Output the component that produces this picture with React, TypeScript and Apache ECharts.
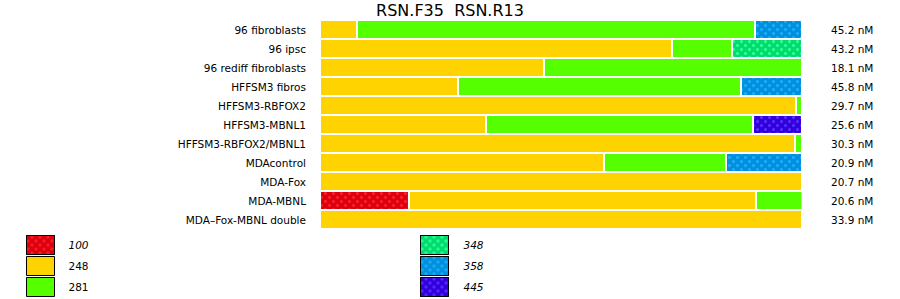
import React, { useEffect, useRef } from "react";
import * as echarts from "echarts";

const categories = [
  "96 fibroblasts",
  "96 ipsc",
  "96 rediff fibroblasts",
  "HFFSM3 fibros",
  "HFFSM3-RBFOX2",
  "HFFSM3-MBNL1",
  "HFFSM3-RBFOX2/MBNL1",
  "MDAcontrol",
  "MDA-Fox",
  "MDA-MBNL",
  "MDA\u2013Fox-MBNL double",
];
const concLabels = [
  "45.2 nM", "43.2 nM", "18.1 nM", "45.8 nM", "29.7 nM", "25.6 nM",
  "30.3 nM", "20.9 nM", "20.7 nM", "20.6 nM", "33.9 nM",
];
const seriesNames = ["100", "248", "281", "348", "358", "445"];
// percent of each bar
const v100 = [0, 0, 0, 0, 0, 0, 0, 0, 0, 18.46, 0];
const v248 = [7.68, 73.03, 46.47, 28.63, 98.76, 34.44, 98.55, 58.92, 100, 71.99, 100];
const v281 = [82.57, 12.45, 53.53, 58.71, 1.24, 55.39, 1.45, 25.31, 0, 9.75, 0];
const v348 = [0, 14.52, 0, 0, 0, 0, 0, 0, 0, 0, 0];
const v358 = [9.75, 0, 0, 12.66, 0, 0, 0, 15.77, 0, 0, 0];
const v445 = [0, 0, 0, 0, 0, 10.17, 0, 0, 0, 0, 0];
const seriesValues = [v100, v248, v281, v348, v358, v445];
const colors = ["#DD0011", "#FFD300", "#55FF00", "#00DD6E", "#0091DD", "#3300DD"];
const dotColors = ["#FF2222", null, null, "#33FF99", "#22AAFF", "#5533FF"];

const FONT = "DejaVu Sans";

export default function App() {
  const ref = useRef<HTMLDivElement>(null);
  useEffect(() => {
    document.body.style.margin = "0";
    const chart = echarts.init(ref.current!, null, { renderer: "svg" });
    const series = seriesNames.map((name, i) => {
      const itemStyle: any = { color: colors[i], borderColor: "#fff", borderWidth: 1 };
      if (dotColors[i]) {
        itemStyle.decal = {
          symbol: "circle",
          symbolSize: 1,
          dashArrayX: [[3, 5], [0, 4, 3, 1]],
          dashArrayY: [3, 1],
          color: dotColors[i],
          rotation: 0,
        };
      }
      return {
        name,
        type: "bar",
        stack: "all",
        barWidth: "100%",
        yAxisIndex: 0,
        data: seriesValues[i].map((v) => (v === 0 ? null : v)),
        itemStyle,
      };
    });
    const italic = (n: string) =>
      n === "248" || n === "281" ? "normal" : "italic";
    const legendCommon = {
      orient: "vertical",
      icon: "rect",
      itemWidth: 28,
      itemHeight: 19,
      itemGap: 1,
      padding: 0,
      selectedMode: false,
      itemStyle: { borderColor: "#000", borderWidth: 1 },
      textStyle: { fontFamily: FONT, fontSize: 10.5, color: "#000", padding: [0, 0, 0, 9] },
    };
    chart.setOption({
      animation: false,
      textStyle: { fontFamily: FONT },
      title: {
        text: "RSN.F35  RSN.R13",
        left: "center",
        top: 0,
        padding: [2, 0, 0, 0],
        textStyle: { fontFamily: FONT, fontSize: 16, fontWeight: "normal", color: "#000" },
      },
      legend: [
        {
          ...legendCommon,
          left: 26,
          top: 235,
          data: ["100", "248", "281"].map((n) => ({
            name: n,
            textStyle: { fontStyle: italic(n) },
          })),
        },
        {
          ...legendCommon,
          left: 420,
          top: 235,
          textStyle: { ...legendCommon.textStyle, padding: [0, 0, 0, 10] },
          data: ["348", "358", "445"].map((n) => ({
            name: n,
            textStyle: { fontStyle: italic(n) },
          })),
        },
      ],
      grid: { left: 320, top: 20, width: 482, height: 209 },
      xAxis: { type: "value", min: 0, max: 100, show: false },
      yAxis: [
        {
          type: "category",
          data: categories,
          inverse: true,
          axisLine: { show: false },
          axisTick: { show: false },
          axisLabel: { fontFamily: FONT, fontSize: 10.5, color: "#000", margin: 14 },
        },
        {
          type: "category",
          data: concLabels,
          inverse: true,
          position: "right",
          axisLine: { show: false },
          axisTick: { show: false },
          axisLabel: { fontFamily: FONT, fontSize: 10.5, color: "#000", margin: 29 },
        },
      ],
      series,
    });
    return () => chart.dispose();
  }, []);
  return <div ref={ref} style={{ width: 900, height: 299 }} />;
}
